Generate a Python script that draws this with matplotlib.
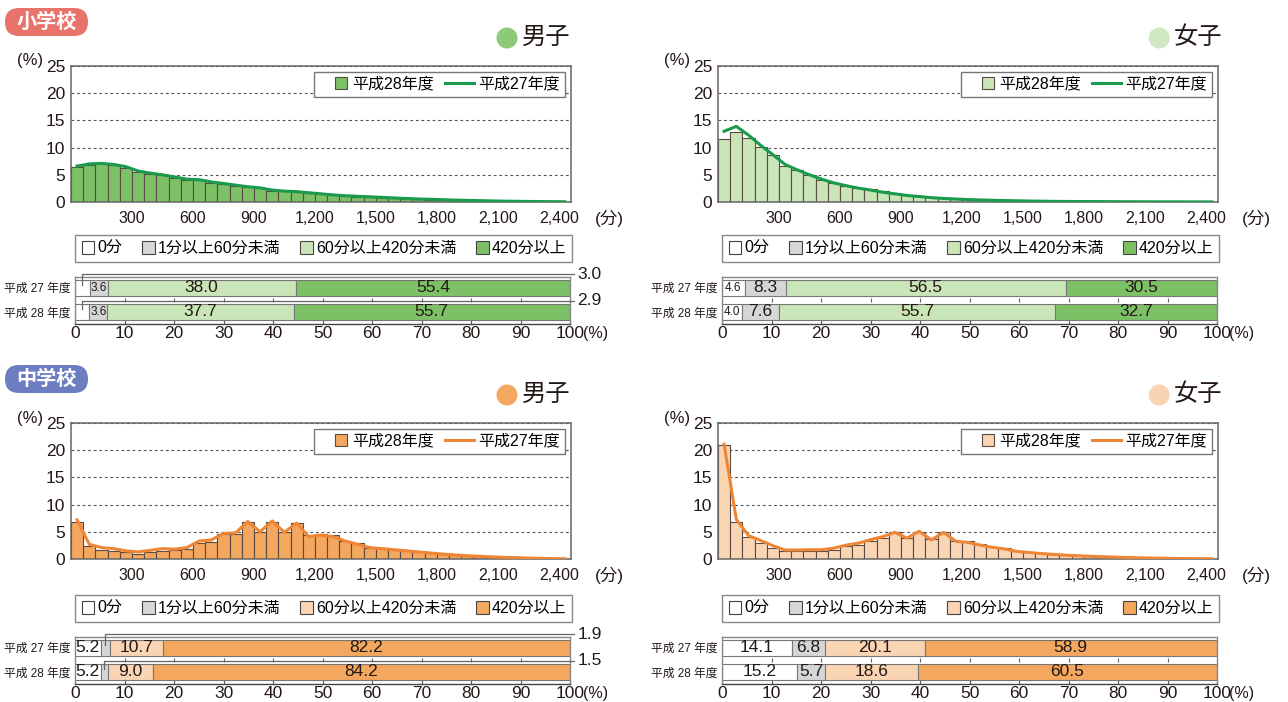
import numpy as np
from matplotlib import pyplot as plt
from matplotlib.patches import Circle, FancyBboxPatch, Patch, Rectangle
from matplotlib.lines import Line2D
from matplotlib.legend_handler import HandlerPatch

plt.rcParams['font.family'] = ['Liberation Sans', 'Noto Sans CJK JP']

# ---------------- data ----------------
BIN = 60  # minutes per histogram bar
x_ticks = [300, 600, 900, 1200, 1500, 1800, 2100, 2400]
x_tick_labels = ['300', '600', '900', '1,200', '1,500', '1,800', '2,100', '2,400']
y_ticks = [0, 5, 10, 15, 20, 25]

legend_years = ['平成28年度', '平成27年度']
group_labels = ['0分', '1分以上60分未満', '60分以上420分未満', '420分以上']
row_labels = ['平成 27 年度', '平成 28 年度']
share_ticks = list(range(0, 101, 10))

# 小学校 男子
es_boys_h28 = [6.5, 6.8, 6.9, 6.8, 6.3, 5.5, 5.2, 4.9, 4.4, 4.1, 4.0, 3.5, 3.3, 3.0,
               2.7, 2.5, 2.1, 2.0, 1.8, 1.6, 1.4, 1.25, 1.1, 1.0, 0.9, 0.8, 0.7, 0.6,
               0.5, 0.45, 0.4, 0.32, 0.27, 0.22, 0.18, 0.15, 0.12, 0.1, 0.08, 0.06, 0.05]
es_boys_h27 = [6.6, 7.0, 7.1, 6.9, 6.5, 5.7, 5.3, 5.0, 4.6, 4.2, 4.1, 3.7, 3.4, 3.1,
               2.8, 2.6, 2.2, 2.0, 1.9, 1.7, 1.5, 1.3, 1.15, 1.05, 0.95, 0.85, 0.75, 0.65,
               0.55, 0.5, 0.42, 0.35, 0.3, 0.25, 0.2, 0.16, 0.13, 0.1, 0.08, 0.06, 0.05]
es_boys_share_h27 = [3.0, 3.6, 38.0, 55.4]
es_boys_share_h28 = [2.9, 3.6, 37.7, 55.7]

# 小学校 女子
es_girls_h28 = [11.6, 12.9, 11.7, 10.1, 8.6, 6.7, 5.8, 5.0, 4.1, 3.5, 3.0, 2.6, 2.3, 1.95,
                1.6, 1.35, 1.1, 0.9, 0.75, 0.6, 0.5, 0.42, 0.35, 0.3, 0.25, 0.2, 0.17, 0.14,
                0.12, 0.1, 0.08, 0.07, 0.06, 0.05, 0.04, 0.04, 0.03, 0.03, 0.02, 0.02, 0.02]
es_girls_h27 = [13.0, 13.9, 12.3, 10.4, 8.7, 6.9, 5.9, 5.0, 4.2, 3.5, 3.0, 2.55, 2.2, 1.8,
                1.5, 1.2, 1.0, 0.8, 0.65, 0.55, 0.45, 0.38, 0.32, 0.27, 0.22, 0.18, 0.15, 0.12,
                0.1, 0.09, 0.08, 0.07, 0.06, 0.05, 0.04, 0.04, 0.03, 0.03, 0.02, 0.02, 0.02]
es_girls_share_h27 = [4.6, 8.3, 56.5, 30.5]
es_girls_share_h28 = [4.0, 7.6, 55.7, 32.7]

# 中学校 男子
jh_boys_h28 = [6.8, 2.3, 1.7, 1.5, 1.2, 1.0, 1.3, 1.5, 1.6, 1.8, 3.0, 3.1, 4.6, 4.6,
               6.8, 5.0, 6.8, 5.0, 6.6, 4.4, 4.6, 4.4, 3.3, 3.0, 2.1, 1.95, 1.8, 1.5,
               1.4, 1.1, 0.9, 0.75, 0.6, 0.5, 0.4, 0.3, 0.25, 0.18, 0.12, 0.08, 0.05]
jh_boys_h27 = [7.2, 2.7, 2.1, 1.9, 1.5, 1.3, 1.6, 1.9, 1.8, 2.1, 3.3, 3.5, 4.7, 4.8,
               6.9, 5.0, 7.0, 4.9, 6.6, 4.1, 4.4, 4.1, 3.3, 2.7, 2.1, 1.9, 1.7, 1.5,
               1.3, 1.1, 0.9, 0.75, 0.6, 0.5, 0.4, 0.3, 0.25, 0.18, 0.12, 0.08, 0.05]
jh_boys_share_h27 = [5.2, 1.9, 10.7, 82.2]
jh_boys_share_h28 = [5.2, 1.5, 9.0, 84.2]

# 中学校 女子
jh_girls_h28 = [20.9, 6.8, 4.0, 3.0, 2.0, 1.4, 1.4, 1.5, 1.4, 1.65, 2.3, 2.6, 3.4, 3.8,
                4.9, 3.8, 5.0, 3.6, 5.0, 3.3, 3.3, 2.75, 2.15, 2.0, 1.5, 1.3, 1.1, 0.95,
                0.8, 0.65, 0.55, 0.45, 0.38, 0.3, 0.25, 0.2, 0.15, 0.12, 0.09, 0.06, 0.04]
jh_girls_h27 = [21.1, 7.3, 4.3, 3.4, 2.45, 1.65, 1.65, 1.7, 1.7, 2.0, 2.55, 2.9, 3.55, 4.1,
                4.9, 3.85, 5.1, 3.5, 4.9, 3.25, 3.05, 2.55, 2.15, 1.85, 1.4, 1.2, 1.0, 0.85,
                0.7, 0.6, 0.5, 0.42, 0.35, 0.28, 0.22, 0.18, 0.14, 0.1, 0.08, 0.06, 0.04]
jh_girls_share_h27 = [14.1, 6.8, 20.1, 58.9]
jh_girls_share_h28 = [15.2, 5.7, 18.6, 60.5]

# ---------------- style ----------------
ES_DARK = '#7dc166'
ES_LIGHT = '#cae6b8'
ES_LINE = '#1a9a4c'
JH_DARK = '#f4a75e'
JH_LIGHT = '#fad5b4'
JH_LINE = '#ef8636'
GRAY_SEG = '#d5d7d7'
EDGE = '#5a4a42'
TEXT = '#231815'

es_colors = ['white', GRAY_SEG, ES_LIGHT, ES_DARK]
jh_colors = ['white', GRAY_SEG, JH_LIGHT, JH_DARK]

W, H = 1288, 702
fig = plt.figure(figsize=(W / 100, H / 100), dpi=100)


def rect(l, t, r, b):
    return [l / W, 1 - b / H, (r - l) / W, (b - t) / H]


def square_right(legend, orig_handle, xdescent, ydescent, width, height, fontsize):
    s = fontsize * 0.78
    return Rectangle((-xdescent + width - s, -ydescent + (height - s) / 2), s, s)


square_handler = {Patch: HandlerPatch(patch_func=square_right)}


def draw_hist(box, bars, line, bar_color, line_color):
    ax = fig.add_axes(rect(*box))
    edges = np.arange(len(bars)) * BIN
    ax.bar(edges, bars, width=BIN, align='edge', color=bar_color, edgecolor=EDGE,
           linewidth=0.8, zorder=2)
    ax.plot(edges + BIN / 2, line, color=line_color, linewidth=2.2, zorder=3)
    ax.set_xlim(0, 2460)
    ax.set_ylim(0, 25)
    ax.set_xticks(x_ticks, x_tick_labels)
    ax.set_yticks(y_ticks)
    ax.set_axisbelow(True)
    ax.grid(axis='y', color='#555555', linewidth=0.8, linestyle=(0, (2.5, 2.5)))
    ax.tick_params(axis='x', length=0, pad=6.5, labelsize=11.5, labelcolor=TEXT)
    ax.tick_params(axis='y', length=0, pad=4, labelsize=12.5, labelcolor=TEXT)
    for s in ax.spines.values():
        s.set_color('#666666')
        s.set_linewidth(1.1)
    handles = [Patch(facecolor=bar_color, edgecolor=EDGE, linewidth=0.8),
               Line2D([], [], color=line_color, linewidth=2.2)]
    leg = ax.legend(handles, legend_years, loc='upper right', bbox_to_anchor=(0.988, 0.956),
                    borderaxespad=0, ncol=2, fontsize=11.5, fancybox=False, framealpha=1,
                    edgecolor='#777777', handlelength=1.8, handletextpad=0.3,
                    columnspacing=0.7, borderpad=0.3, handler_map=square_handler)
    leg.get_frame().set_linewidth(1.0)
    l, t, r, b = box
    fig.text((l - 41) / W, 1 - (t - 5) / H, '(%)', fontsize=12, color=TEXT,
             ha='center', va='center')
    fig.text((r + 38) / W, 1 - (b + 16) / H, '(分)', fontsize=12.5, color=TEXT,
             ha='center', va='center')
    return ax


def draw_legend_box(box, colors):
    l, t, r, b = box
    handles = [Patch(facecolor=c, edgecolor='#444444', linewidth=0.8) for c in colors]
    leg = fig.legend(handles, group_labels, loc='center',
                     bbox_to_anchor=(l / W, 1 - b / H, (r - l) / W, (b - t) / H),
                     mode='expand', ncol=4, fontsize=11.5, fancybox=False, framealpha=1,
                     edgecolor='#888888', handlelength=0.85, handletextpad=0.2,
                     borderpad=0.35, borderaxespad=0, handler_map=square_handler)
    leg.get_frame().set_linewidth(1.0)


def draw_stack(box, rows, colors, callout):
    ax = fig.add_axes(rect(*box))
    for y, vals in zip([1, 0], rows):
        lefts = np.concatenate([[0], np.cumsum(vals)[:-1]])
        ax.barh([y] * len(vals), vals, left=lefts, height=0.67, color=colors,
                edgecolor='#777777', linewidth=0.8, zorder=2)
        for k, (v, lf) in enumerate(zip(vals, lefts)):
            cx = lf + v / 2
            if k == callout:
                top = 1.56 if y == 1 else 0.47
                ax.plot([cx, cx, 100.8], [y + 0.1, top, top], color='#666666',
                        linewidth=0.9, clip_on=False, zorder=3)
                ax.text(101.5, top, f'{v:.1f}', ha='left', va='center', fontsize=12.5,
                        color=TEXT, clip_on=False)
            else:
                ax.text(cx, y, f'{v:.1f}', ha='center', va='center',
                        fontsize=8.5 if v < 5 else 12.5, color=TEXT, zorder=4)
    ax.vlines(share_ticks[1:-1], 0.42, 0.58, color='#666666', linewidth=0.8, zorder=1)
    ax.set_xlim(0, 100)
    ax.set_ylim(-0.5, 1.44)
    ax.set_xticks(share_ticks, [str(t) for t in share_ticks])
    ax.set_yticks([1, 0], row_labels)
    ax.tick_params(axis='x', direction='in', length=3, width=0.8, color='#555555',
                   pad=1.5, labelsize=12.5, labelcolor=TEXT)
    ax.tick_params(axis='y', length=0, pad=3, labelsize=8.5, labelcolor=TEXT)
    for name, s in ax.spines.items():
        s.set_color('#444444' if name == 'bottom' else '#888888')
        s.set_linewidth(1.0)
    ax.annotate('(%)', xy=(1, 0), xycoords='axes fraction', xytext=(9, -1.5),
                textcoords='offset points', ha='left', va='top', fontsize=11.5, color=TEXT)
    return ax


def draw_title(x, y, text, color):
    fig.add_artist(Circle((x / 100, (H - y) / 100), 0.105, transform=fig.dpi_scale_trans,
                          facecolor=color, edgecolor='none'))
    fig.text((x + 15) / W, 1 - y / H, text, fontsize=17.5, color=TEXT, ha='left', va='center')


def draw_pill(y_top, text, color):
    fig.add_artist(FancyBboxPatch((5 / 100, (H - y_top - 28) / 100), 83 / 100, 28 / 100,
                                  boxstyle='round,pad=0,rounding_size=0.14',
                                  transform=fig.dpi_scale_trans, facecolor=color,
                                  edgecolor='none'))
    fig.text(46.5 / W, 1 - (y_top + 14) / H, text, fontsize=14.5, fontweight='bold',
             color='white', ha='center', va='center')


panels = [
    # (x offset, y offset, title, circle colour, bars, line, bar colour, line colour,
    #  shares, segment colours, callout segment)
    (0, 0, '男子', '#8cca78', es_boys_h28, es_boys_h27, ES_DARK, ES_LINE,
     [es_boys_share_h27, es_boys_share_h28], es_colors, 0),
    (647, 0, '女子', '#cfe8c2', es_girls_h28, es_girls_h27, ES_LIGHT, ES_LINE,
     [es_girls_share_h27, es_girls_share_h28], es_colors, None),
    (0, 357, '男子', '#f4a75e', jh_boys_h28, jh_boys_h27, JH_DARK, JH_LINE,
     [jh_boys_share_h27, jh_boys_share_h28], jh_colors, 1),
    (647, 357, '女子', '#f9d4b3', jh_girls_h28, jh_girls_h27, JH_LIGHT, JH_LINE,
     [jh_girls_share_h27, jh_girls_share_h28], jh_colors, None),
]

for dx, dy, title, ccol, bars, line, bcol, lcol, shares, scols, callout in panels:
    draw_hist((71 + dx, 66 + dy, 571 + dx, 202 + dy), bars, line, bcol, lcol)
    sdy = dy + 3 if dy else 0
    draw_legend_box((75 + dx, 233 + sdy, 572 + dx, 264 + sdy), scols)
    draw_stack((75 + dx, 277 + sdy, 570 + dx, 324 + sdy), shares, scols, callout)
    draw_title(507 + dx * 1.008, 38 + dy, title, ccol)

draw_pill(8, '小学校', '#e8736b')
draw_pill(365, '中学校', '#6c7dc2')

fig.savefig('out.png', dpi=100)
